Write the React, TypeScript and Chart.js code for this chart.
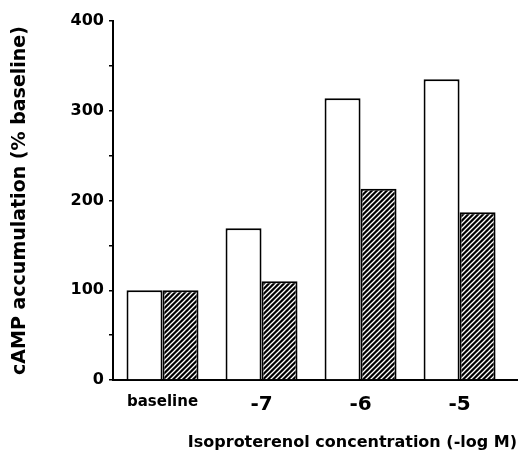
import React, { useEffect, useRef } from "react";
import { Chart, registerables } from "chart.js";

Chart.register(...registerables);

const categories = ["baseline", "-7", "-6", "-5"];
const controlValues = [100, 169, 314, 335];
const treatedValues = [100, 110, 213, 187];
const yLabelStep = 100;
const yMinorStep = 50;
const yMin = 0;
const yMax = 400;
const xTitle = "Isoproterenol concentration (-log M)";
const yTitle = "cAMP accumulation (% baseline)";

const FONT = "'DejaVu Sans', Verdana, sans-serif";

function makeHatch(): CanvasPattern | string {
  const s = 5;
  const c = document.createElement("canvas");
  c.width = s;
  c.height = s;
  const g = c.getContext("2d");
  if (!g) return "#000";
  g.fillStyle = "#000";
  g.fillRect(0, 0, s, s);
  g.strokeStyle = "#fff";
  g.lineWidth = 1.3;
  g.beginPath();
  g.moveTo(-1, s + 1);
  g.lineTo(s + 1, -1);
  g.moveTo(-1, 1);
  g.lineTo(1, -1);
  g.moveTo(s - 1, s + 1);
  g.lineTo(s + 1, s - 1);
  g.stroke();
  return g.createPattern(c, "repeat") || "#000";
}

export default function App() {
  const ref = useRef<HTMLCanvasElement | null>(null);

  useEffect(() => {
    if (!ref.current) return;
    Chart.defaults.font.family = FONT;
    Chart.defaults.color = "#000";
    const hatch = makeHatch();
    const chart = new Chart(ref.current, {
      type: "bar",
      data: {
        datasets: [
          {
            label: "control",
            data: categories.map((_, i) => ({ x: i, y: controlValues[i] })),
            backgroundColor: "#fff",
            borderColor: "#000",
            borderWidth: 2,
          },
          {
            label: "treated",
            data: categories.map((_, i) => ({ x: i, y: treatedValues[i] })),
            backgroundColor: hatch as any,
            borderColor: "#000",
            borderWidth: 2,
          },
        ],
      },
      options: {
        animation: false,
        responsive: false,
        maintainAspectRatio: false,
        layout: { padding: { top: 21, right: 5, left: 0, bottom: 0 } },
        datasets: {
          bar: { categoryPercentage: 0.727, barPercentage: 1 },
        } as any,
        plugins: {
          legend: { display: false },
          tooltip: { enabled: false },
        },
        scales: {
          x: {
            type: "linear",
            min: -0.5,
            max: 3.58,
            offset: false,
            grid: { display: false, drawTicks: false },
            border: { display: true, color: "#000", width: 2 },
            afterBuildTicks: (scale: any) => {
              scale.ticks = categories.map((_, i) => ({ value: i }));
            },
            afterFit: (scale: any) => {
              scale.height = 81;
            },
            ticks: {
              padding: 13,
              color: "#000",
              maxRotation: 0,
              autoSkip: false,
              callback: (v: any) => categories[Number(v)] ?? "",
              font: (ctx: any) =>
                ctx.index === 0
                  ? { family: FONT, size: 15, weight: "bold" }
                  : { family: FONT, size: 20, weight: "bold" },
            } as any,
            title: {
              display: true,
              text: xTitle,
              align: "end",
              color: "#000",
              font: { family: FONT, size: 16, weight: "bold" },
              padding: { top: 0, bottom: 9 },
            },
          },
          y: {
            type: "linear",
            min: yMin,
            max: yMax,
            grid: {
              drawOnChartArea: false,
              drawTicks: true,
              tickLength: 4,
              color: "#000",
              lineWidth: 1.5,
            },
            border: { display: true, color: "#000", width: 2 },
            afterFit: (scale: any) => {
              scale.width = 113;
            },
            ticks: {
              stepSize: yMinorStep,
              padding: 5,
              color: "#000",
              font: { family: FONT, size: 16, weight: "bold" },
              callback: (v: any) => (Number(v) % yLabelStep === 0 ? String(v) : ""),
            },
            title: {
              display: true,
              text: yTitle,
              color: "#000",
              font: { family: FONT, size: 19, weight: "bold" },
              padding: { top: 9, bottom: 0 },
            },
          },
        },
      },
    });
    return () => chart.destroy();
  }, []);

  return (
    <canvas
      ref={ref}
      width={522}
      height={461}
      style={{ position: "absolute", left: 0, top: 0, display: "block", width: 522, height: 461 }}
    />
  );
}
